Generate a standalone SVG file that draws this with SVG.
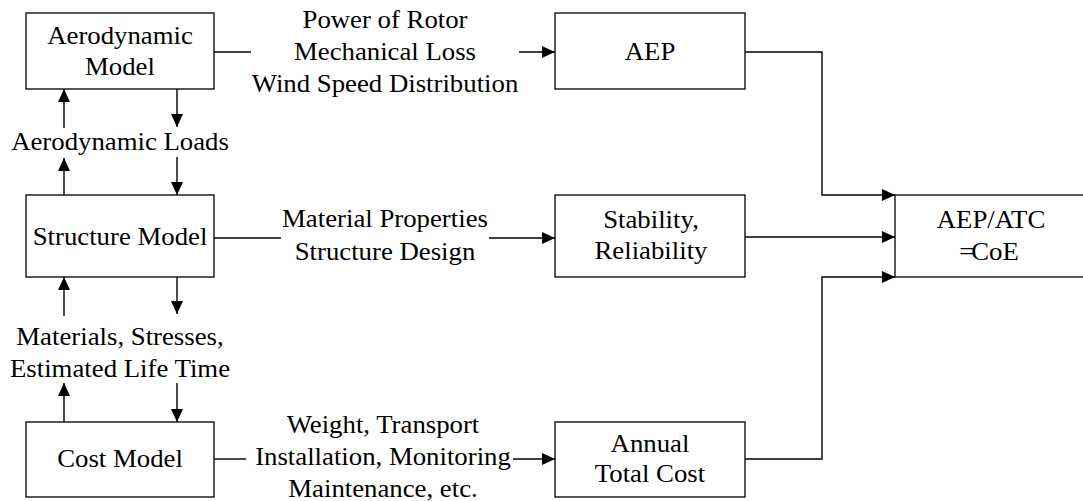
<svg xmlns="http://www.w3.org/2000/svg" width="1083" height="501" viewBox="0 0 1083 501">
<style>
.box{fill:#fff;stroke:#111;stroke-width:1.4}
.ln{fill:none;stroke:#000;stroke-width:1.4}
text{font-family:"Liberation Serif","Times New Roman",serif;font-size:26px;fill:#000;text-anchor:middle}
</style>
<defs>
<marker id="ah" markerUnits="userSpaceOnUse" markerWidth="14" markerHeight="12" refX="13" refY="6" orient="auto">
<path d="M0,0 L13,6 L0,12 Z" fill="#000"/>
</marker>
</defs>
<rect width="1083" height="501" fill="#fff"/>
<g id="connectors">
<line class="ln" x1="214" y1="52" x2="251" y2="52"/>
<line class="ln" x1="519" y1="52" x2="555" y2="52" marker-end="url(#ah)"/>
<line class="ln" x1="214" y1="238" x2="281" y2="238"/>
<line class="ln" x1="489" y1="238" x2="555" y2="238" marker-end="url(#ah)"/>
<line class="ln" x1="214" y1="459" x2="246" y2="459"/>
<line class="ln" x1="513" y1="459" x2="555" y2="459" marker-end="url(#ah)"/>
<polyline class="ln" points="745,52 822,52 822,195 895,195" marker-end="url(#ah)"/>
<line class="ln" x1="745" y1="237" x2="895" y2="237" marker-end="url(#ah)"/>
<polyline class="ln" points="745,459 822,459 822,277 895,277" marker-end="url(#ah)"/>
<line class="ln" x1="64" y1="128" x2="64" y2="89" marker-end="url(#ah)"/>
<line class="ln" x1="177" y1="89" x2="177" y2="127" marker-end="url(#ah)"/>
<line class="ln" x1="64" y1="195" x2="64" y2="158" marker-end="url(#ah)"/>
<line class="ln" x1="177" y1="157" x2="177" y2="195" marker-end="url(#ah)"/>
<line class="ln" x1="64" y1="316" x2="64" y2="277" marker-end="url(#ah)"/>
<line class="ln" x1="177" y1="277" x2="177" y2="314" marker-end="url(#ah)"/>
<line class="ln" x1="64" y1="422" x2="64" y2="383" marker-end="url(#ah)"/>
<line class="ln" x1="177" y1="383" x2="177" y2="422" marker-end="url(#ah)"/>
</g>
<g id="aero">
<rect class="box" x="26" y="13" width="188" height="76"/>
<text transform="translate(120,44) scale(1.03,1)">Aerodynamic</text>
<text transform="translate(120,75) scale(1.03,1)">Model</text>
</g>
<g id="aero-loads">
<text transform="translate(120,150) scale(1.03,1)">Aerodynamic Loads</text>
</g>
<g id="structure">
<rect class="box" x="26" y="195" width="188" height="82"/>
<text transform="translate(120,245) scale(1.03,1)">Structure Model</text>
</g>
<g id="mat-label">
<text transform="translate(120,345) scale(1.03,1)">Materials, Stresses,</text>
<text transform="translate(120,377) scale(1.03,1)">Estimated Life Time</text>
</g>
<g id="cost">
<rect class="box" x="26" y="422" width="188" height="75"/>
<text transform="translate(120,467) scale(1.03,1)">Cost Model</text>
</g>
<g id="power-label">
<text transform="translate(385,28) scale(1.03,1)">Power of Rotor</text>
<text transform="translate(385,60) scale(1.03,1)">Mechanical Loss</text>
<text transform="translate(385,92) scale(1.03,1)">Wind Speed Distribution</text>
</g>
<g id="material-label">
<text transform="translate(385,227) scale(1.03,1)">Material Properties</text>
<text transform="translate(385,260) scale(1.03,1)">Structure Design</text>
</g>
<g id="cost-label">
<text transform="translate(383,433) scale(1.03,1)">Weight, Transport</text>
<text transform="translate(383,465) scale(1.03,1)">Installation, Monitoring</text>
<text transform="translate(383,497) scale(1.03,1)">Maintenance, etc.</text>
</g>
<g id="aep">
<rect class="box" x="555" y="13" width="190" height="76"/>
<text transform="translate(650,60) scale(1.03,1)">AEP</text>
</g>
<g id="stability">
<rect class="box" x="555" y="195" width="190" height="82"/>
<text transform="translate(651,228) scale(1.03,1)">Stability,</text>
<text transform="translate(651,259) scale(1.03,1)">Reliability</text>
</g>
<g id="annual">
<rect class="box" x="555" y="422" width="190" height="75"/>
<text transform="translate(650,452) scale(1.03,1)">Annual</text>
<text transform="translate(650,482) scale(1.03,1)">Total Cost</text>
</g>
<g id="coe">
<rect class="box" x="895" y="195" width="220" height="82"/>
<text transform="translate(991,228) scale(1.03,1)">AEP/ATC</text>
<text transform="translate(989,260) scale(1.03,1)">=<tspan dx="-3">CoE</tspan></text>
</g>
</svg>
